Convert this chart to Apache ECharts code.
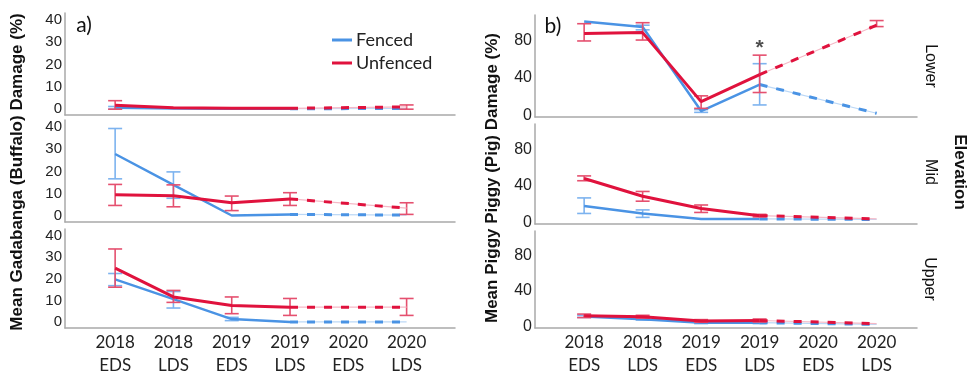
<!DOCTYPE html>
<html>
<head>
<meta charset="utf-8">
<script src="https://cdn.jsdelivr.net/npm/echarts@6/dist/echarts.min.js"></script>
<style>
  html, body { margin: 0; padding: 0; background: #fff; }
  #chart { width: 977px; height: 377px; }
</style>
</head>
<body>
<div id="chart"></div>
<script>
// Survey periods (early / late dry season); 2020 EDS was not surveyed
const periods = ['2018\nEDS', '2018\nLDS', '2019\nEDS', '2019\nLDS', '2020\nEDS', '2020\nLDS'];
const periodIndex = [0, 1, 2, 3, 4, 5];
const lastObserved = 3; // periods after this one are drawn dashed

const buffaloTicks = [0, 10, 20, 30, 40];
const pigTicks = [0, 40, 80];

// Buffalo damage (%) — mean, lower and upper error limits
const buffaloLowerFenced     = [0.6, 0.3, 0.2, 0.2, null, 0.3];
const buffaloLowerFencedLo   = [0.0, null, null, null, null, null];
const buffaloLowerFencedHi   = [1.2, null, null, null, null, null];
const buffaloLowerUnfenced   = [1.8, 0.6, 0.4, 0.4, null, 1.0];
const buffaloLowerUnfencedLo = [0.0, null, null, null, null, 0.0];
const buffaloLowerUnfencedHi = [3.8, null, null, null, null, 1.9];

const buffaloMidFenced       = [27.8, 14.0, 0.3, 0.8, null, 0.5];
const buffaloMidFencedLo     = [16.7, 8.0, null, null, null, null];
const buffaloMidFencedHi     = [39.2, 19.8, null, null, null, null];
const buffaloMidUnfenced     = [9.6, 9.1, 6.0, 7.7, null, 3.6];
const buffaloMidUnfencedLo   = [4.8, 4.2, 2.5, 4.8, null, 0.8];
const buffaloMidUnfencedHi   = [14.2, 14.0, 9.0, 10.5, null, 6.0];

const buffaloUpperFenced     = [19.8, 10.7, 1.5, 0.2, null, 0.2];
const buffaloUpperFencedLo   = [16.9, 6.6, 0.8, null, null, null];
const buffaloUpperFencedHi   = [22.5, 14.2, 2.3, null, null, null];
const buffaloUpperUnfenced   = [25.0, 11.7, 7.8, 7.0, null, 7.0];
const buffaloUpperUnfencedLo = [16.2, 9.2, 4.0, 3.2, null, 3.2];
const buffaloUpperUnfencedHi = [33.8, 14.7, 11.7, 11.0, null, 11.0];

// Pig damage (%) — mean, lower and upper error limits
const pigLowerFenced         = [101, 95, 4.4, 33, null, 2];
const pigLowerFencedLo       = [null, 92, 3, 11, null, null];
const pigLowerFencedHi       = [null, 97, 6, 55.5, null, null];
const pigLowerUnfenced       = [88, 89, 14.6, 43.8, null, 97];
const pigLowerUnfencedLo     = [80, 81, 7.3, 24.4, null, 95.5];
const pigLowerUnfencedHi     = [98.6, 99.7, 20.8, 64.7, null, 102];
const pigLowerSignificance   = [null, null, null, '*', null, null];

const pigMidFenced           = [17.8, 9.6, 3.6, 3.6, null, 3];
const pigMidFencedLo         = [9.6, 5.3, null, null, null, null];
const pigMidFencedHi         = [26.7, 13.5, null, null, null, null];
const pigMidUnfenced         = [48, 28.5, 15, 7.2, null, 3.6];
const pigMidUnfencedLo       = [45.6, 23.1, 10.7, 5.8, null, null];
const pigMidUnfencedHi       = [50.9, 33.8, 18.9, 8.6, null, null];

const pigUpperFenced         = [11, 8, 4, 4, null, 2];
const pigUpperFencedLo       = [10, 7, 3, 3, null, null];
const pigUpperFencedHi       = [12.5, 9.5, 5, 5, null, null];
const pigUpperUnfenced       = [11.8, 10.8, 6, 6.5, null, 3];
const pigUpperUnfencedLo     = [9.8, 9.2, 4.5, 4.8, null, null];
const pigUpperUnfencedHi     = [13.8, 12.4, 7.5, 8.2, null, null];

const BLUE = '#4a93e4';
const BLUE_ERR = '#7db3ef';
const BLUE_FAINT = '#bcd8f6';
const RED = '#e0123d';
const RED_ERR = '#e5506f';
const RED_FAINT = '#f5b8c6';

const labelFont = 'Lato';
const tickFont = '"Liberation Sans", Arial, sans-serif';

const grids = [];
const xAxes = [];
const yAxes = [];
const series = [];

function addPanel(g, box, xRange, yRange, ticks, showX, fenced, unfenced, extra) {
  grids.push({ left: box[0], top: box[1], width: box[2], height: box[3] });
  xAxes.push({
    gridIndex: g, type: 'value', min: xRange[0], max: xRange[1],
    axisLine: { show: true, onZero: false, lineStyle: { color: '#a9a9a9', width: 1.5 } },
    axisTick: { show: false }, splitLine: { show: false },
    axisLabel: {
      show: showX, customValues: periodIndex, margin: 3,
      formatter: v => periods[Math.round(v)],
      fontFamily: labelFont, fontSize: 17, color: '#222', lineHeight: 23
    }
  });
  yAxes.push({
    gridIndex: g, type: 'value', min: yRange[0], max: yRange[1],
    axisLine: { show: true, onZero: false, lineStyle: { color: '#a9a9a9', width: 1.5 } },
    axisTick: { show: false }, splitLine: { show: false },
    axisLabel: {
      customValues: ticks, margin: 3,
      fontFamily: tickFont, fontSize: ticks.length > 3 ? 15 : 16, color: '#222'
    }
  });

  const groups = [
    { name: 'Fenced', d: fenced, color: BLUE, err: BLUE_ERR, faint: BLUE_FAINT, width: 2.5 },
    { name: 'Unfenced', d: unfenced, color: RED, err: RED_ERR, faint: RED_FAINT, width: 3 }
  ];

  groups.forEach((s, k) => {
    const [mean, lo, hi] = s.d;
    const errData = periodIndex
      .filter(i => lo[i] != null && hi[i] != null)
      .map(i => [i, lo[i], hi[i]]);
    series.push({
      type: 'custom', name: s.name + ' error', xAxisIndex: g, yAxisIndex: g,
      z: 2 + k * 2, silent: true,
      encode: { x: 0, y: [1, 2] },
      data: errData,
      renderItem: (params, api) => {
        const x = api.value(0);
        const a = api.coord([x, api.value(1)]);
        const b = api.coord([x, api.value(2)]);
        const w = 7;
        const st = { stroke: s.err, lineWidth: 1.6 };
        return {
          type: 'group',
          children: [
            { type: 'line', shape: { x1: a[0], y1: a[1], x2: b[0], y2: b[1] }, style: st },
            { type: 'line', shape: { x1: a[0] - w, y1: a[1], x2: a[0] + w, y2: a[1] }, style: st },
            { type: 'line', shape: { x1: b[0] - w, y1: b[1], x2: b[0] + w, y2: b[1] }, style: st }
          ]
        };
      }
    });
    const observed = periodIndex.filter(i => i <= lastObserved && mean[i] != null).map(i => [i, mean[i]]);
    const projected = periodIndex.filter(i => i >= lastObserved && mean[i] != null).map(i => [i, mean[i]]);
    series.push({
      type: 'line', name: s.name, xAxisIndex: g, yAxisIndex: g, z: 3 + k * 2,
      data: observed, showSymbol: false, symbol: 'none', silent: true,
      color: s.color, lineStyle: { color: s.color, width: s.width }
    });
    series.push({
      type: 'line', name: s.name + ' trend', xAxisIndex: g, yAxisIndex: g, z: 2 + k * 2,
      data: projected, showSymbol: false, symbol: 'none', silent: true,
      lineStyle: { color: s.faint, width: 1.2 }
    });
    series.push({
      type: 'line', name: s.name + ' projected', xAxisIndex: g, yAxisIndex: g, z: 3 + k * 2,
      data: projected, showSymbol: false, symbol: 'none', silent: true,
      lineStyle: { color: s.color, width: 3, type: [8, 9] }
    });
  });

  if (extra) {
    series.push({
      type: 'scatter', xAxisIndex: g, yAxisIndex: g, z: 10, silent: true,
      symbol: 'circle', symbolSize: 2, itemStyle: { color: 'rgba(255,255,255,0)' },
      data: periodIndex.filter(i => extra.marks[i]).map(i => ({ value: [i, extra.hi[i]], mark: extra.marks[i] })),
      label: {
        show: true, position: 'top', distance: -5,
        formatter: p => p.data.mark,
        fontFamily: tickFont, fontSize: 21, fontWeight: 'bold', color: '#222'
      }
    });
  }
}

const leftX = [-0.86, 5.83];
const rightX = [-0.84, 5.69];
const buffaloY = [-2.6, 43];
const pigY = [-2, 108];

addPanel(0, [65, 13, 390, 102], leftX, buffaloY, buffaloTicks, false,
  [buffaloLowerFenced, buffaloLowerFencedLo, buffaloLowerFencedHi],
  [buffaloLowerUnfenced, buffaloLowerUnfencedLo, buffaloLowerUnfencedHi]);
addPanel(1, [65, 120, 390, 102], leftX, buffaloY, buffaloTicks, false,
  [buffaloMidFenced, buffaloMidFencedLo, buffaloMidFencedHi],
  [buffaloMidUnfenced, buffaloMidUnfencedLo, buffaloMidUnfencedHi]);
addPanel(2, [65, 229, 390, 100], leftX, buffaloY, buffaloTicks, true,
  [buffaloUpperFenced, buffaloUpperFencedLo, buffaloUpperFencedHi],
  [buffaloUpperUnfenced, buffaloUpperUnfencedLo, buffaloUpperUnfencedHi]);

addPanel(3, [535, 15, 382, 102], rightX, pigY, pigTicks, false,
  [pigLowerFenced, pigLowerFencedLo, pigLowerFencedHi],
  [pigLowerUnfenced, pigLowerUnfencedLo, pigLowerUnfencedHi],
  { marks: pigLowerSignificance, hi: pigLowerUnfencedHi });
addPanel(4, [535, 124, 382, 100], rightX, pigY, pigTicks, false,
  [pigMidFenced, pigMidFencedLo, pigMidFencedHi],
  [pigMidUnfenced, pigMidUnfencedLo, pigMidUnfencedHi]);
addPanel(5, [535, 231, 382, 102], rightX, pigY, pigTicks, true,
  [pigUpperFenced, pigUpperFencedLo, pigUpperFencedHi],
  [pigUpperUnfenced, pigUpperUnfencedLo, pigUpperUnfencedHi]);

function txt(x, y, text, font, rotation) {
  return {
    type: 'text', x: x, y: y, rotation: rotation || 0, silent: true,
    style: { text: text, font: font, fill: '#111', textAlign: 'center', textVerticalAlign: 'middle' }
  };
}

const titleFont = 'bold 17px "Liberation Sans", Arial, sans-serif';
const stripFont = '16px "Liberation Sans", Arial, sans-serif';

const chart = echarts.init(document.getElementById('chart'), null, { renderer: 'canvas' });
chart.setOption({
  animation: false,
  backgroundColor: '#fff',
  grid: grids,
  xAxis: xAxes,
  yAxis: yAxes,
  legend: {
    data: ['Fenced', 'Unfenced'],
    orient: 'vertical', left: 327, top: 26, itemGap: 5,
    icon: 'rect', itemWidth: 20, itemHeight: 3,
    textStyle: { fontFamily: labelFont, fontSize: 18, color: '#222', padding: [0, 0, 0, -1] },
    selectedMode: false
  },
  graphic: [
    txt(84, 25, 'a)', '21px Lato'),
    txt(553, 26, 'b)', '21px Lato'),
    txt(17, 172, 'Mean Gadabanga (Buffalo) Damage (%)', titleFont, Math.PI / 2),
    txt(492, 178, 'Mean Piggy Piggy (Pig) Damage (%)', titleFont, Math.PI / 2),
    txt(960, 172, 'Elevation', titleFont, -Math.PI / 2),
    txt(930, 66, 'Lower', stripFont, -Math.PI / 2),
    txt(930, 172, 'Mid', stripFont, -Math.PI / 2),
    txt(929, 279, 'Upper', stripFont, -Math.PI / 2)
  ],
  series: series
});
</script>
</body>
</html>
